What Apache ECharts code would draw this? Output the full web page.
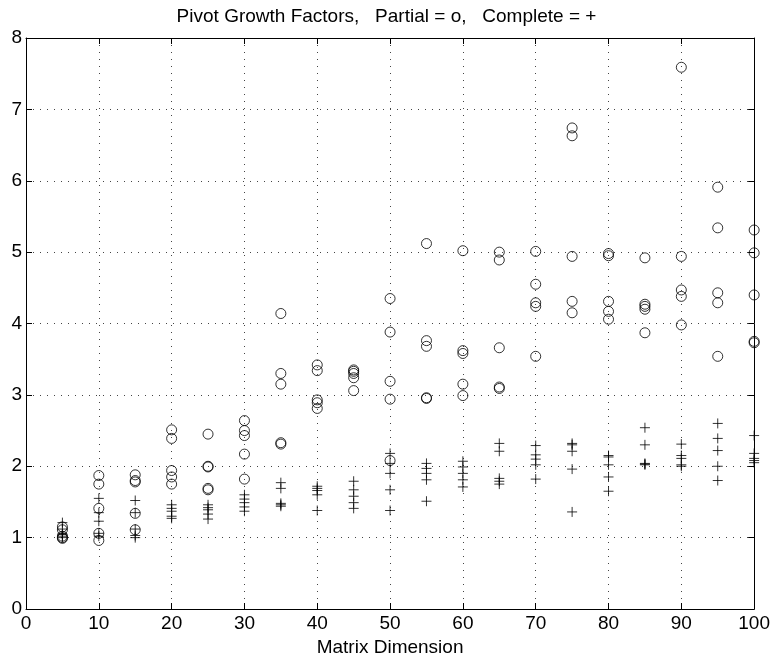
<!DOCTYPE html>
<html>
<head>
<meta charset="utf-8">
<script src="https://cdn.jsdelivr.net/npm/echarts@6/dist/echarts.min.js"></script>
<style>
  html, body { margin: 0; padding: 0; background: #fff; }
  #chart { width: 773px; height: 662px; }
</style>
</head>
<body>
<div id="chart"></div>
<script>
// Matrix dimensions tested (five random matrices each)
const dims = [5, 10, 15, 20, 25, 30, 35, 40, 45, 50, 55, 60, 65, 70, 75, 80, 85, 90, 95, 100];

// Growth factors with partial pivoting, one row per dimension
const partial = [
  [1.15, 1.11, 1.02, 1.00, 0.99],
  [1.87, 1.75, 1.41, 1.06, 0.96],
  [1.88, 1.80, 1.78, 1.34, 1.11],
  [2.51, 2.39, 1.94, 1.85, 1.75],
  [2.45, 2.00, 1.99, 1.69, 1.67],
  [2.64, 2.50, 2.43, 2.17, 1.82],
  [4.14, 3.30, 3.15, 2.33, 2.31],
  [3.42, 3.34, 2.93, 2.89, 2.81],
  [3.35, 3.33, 3.30, 3.24, 3.06],
  [4.35, 3.88, 3.19, 2.94, 2.08],
  [5.12, 3.76, 3.68, 2.96, 2.95],
  [5.02, 3.62, 3.58, 3.15, 2.99],
  [5.00, 4.89, 3.66, 3.11, 3.09],
  [5.01, 4.55, 4.29, 4.24, 3.54],
  [6.74, 6.63, 4.94, 4.31, 4.15],
  [4.98, 4.95, 4.31, 4.17, 4.06],
  [4.92, 4.27, 4.24, 4.20, 3.87],
  [7.59, 4.94, 4.47, 4.38, 3.98],
  [5.91, 5.34, 4.43, 4.29, 3.54],
  [5.31, 4.99, 4.40, 3.75, 3.73]
];

// Growth factors with complete pivoting
const complete = [
  [1.21, 1.12, 1.05, 1.02, 1.00],
  [1.55, 1.35, 1.23, 1.06, 1.02],
  [1.52, 1.35, 1.12, 1.03, 1.00],
  [1.46, 1.41, 1.37, 1.30, 1.27],
  [1.46, 1.42, 1.39, 1.33, 1.26],
  [1.60, 1.54, 1.49, 1.43, 1.37],
  [1.77, 1.69, 1.48, 1.46, 1.44],
  [1.72, 1.69, 1.66, 1.60, 1.38],
  [1.79, 1.67, 1.58, 1.49, 1.41],
  [2.18, 2.04, 1.90, 1.67, 1.38],
  [2.04, 1.97, 1.90, 1.81, 1.51],
  [2.07, 1.99, 1.90, 1.81, 1.71],
  [2.32, 2.21, 1.83, 1.79, 1.75],
  [2.29, 2.16, 2.10, 2.02, 1.82],
  [2.32, 2.30, 2.21, 1.96, 1.36],
  [2.15, 2.13, 2.02, 1.85, 1.65],
  [2.54, 2.30, 2.04, 2.03, 2.02],
  [2.31, 2.15, 2.11, 2.02, 2.00],
  [2.60, 2.39, 2.22, 2.00, 1.80],
  [2.43, 2.18, 2.11, 2.08, 2.05]
];

const xTicks = [0, 10, 20, 30, 40, 50, 60, 70, 80, 90, 100];
const yTicks = [0, 1, 2, 3, 4, 5, 6, 7, 8];

function toPairs(rows) {
  const out = [];
  rows.forEach((row, i) => row.forEach(v => out.push([dims[i], v])));
  return out;
}

const font = '"Liberation Sans", Arial, Helvetica, sans-serif';
const dotted = { color: '#444', width: 1, type: [1, 6] };

const chart = echarts.init(document.getElementById('chart'), null, { renderer: 'canvas' });

const baseX = {
  type: 'value', min: xTicks[0], max: xTicks[xTicks.length - 1], interval: 10,
  axisLine: { show: true, onZero: false, lineStyle: { color: '#000', width: 1 } },
  axisTick: { show: true, inside: true, length: 6, lineStyle: { color: '#000' } }
};
const baseY = {
  type: 'value', min: yTicks[0], max: yTicks[yTicks.length - 1], interval: 1,
  axisLine: { show: true, onZero: false, lineStyle: { color: '#000', width: 1 } },
  axisTick: { show: true, inside: true, length: 6, lineStyle: { color: '#000' } }
};

chart.setOption({
  animation: false,
  backgroundColor: '#fff',
  title: {
    text: 'Pivot Growth Factors,   Partial = o,   Complete = +',
    left: 'center', top: 2,
    textStyle: { fontFamily: font, fontSize: 19, fontWeight: 'normal', color: '#000' }
  },
  grid: { left: 26, right: 16, top: 38, bottom: 53 },
  xAxis: [
    Object.assign({}, baseX, {
      position: 'bottom',
      name: 'Matrix Dimension', nameLocation: 'middle', nameGap: 29,
      nameTextStyle: { fontFamily: font, fontSize: 19, color: '#000' },
      axisLabel: { show: true, margin: 5, fontFamily: font, fontSize: 19, color: '#000' },
      splitLine: { show: true, lineStyle: dotted }
    }),
    Object.assign({}, baseX, {
      position: 'top',
      axisLabel: { show: false },
      splitLine: { show: false }
    })
  ],
  yAxis: [
    Object.assign({}, baseY, {
      position: 'left',
      axisLabel: { show: true, margin: 4, fontFamily: font, fontSize: 19, color: '#000' },
      splitLine: { show: true, lineStyle: dotted }
    }),
    Object.assign({}, baseY, {
      position: 'right',
      axisLabel: { show: false },
      splitLine: { show: false }
    })
  ],
  series: [
    {
      name: 'Partial', type: 'scatter', xAxisIndex: 0, yAxisIndex: 0,
      symbol: 'circle', symbolSize: 10,
      itemStyle: { color: 'rgba(0,0,0,0)', borderColor: '#000', borderWidth: 1 },
      data: toPairs(partial)
    },
    {
      name: 'Complete', type: 'scatter', xAxisIndex: 0, yAxisIndex: 0,
      symbol: 'path://M0,5 L10,5 M5,0 L5,10', symbolSize: 10,
      itemStyle: { color: 'rgba(0,0,0,0)', borderColor: '#000', borderWidth: 1 },
      data: toPairs(complete)
    }
  ]
});
</script>
</body>
</html>
